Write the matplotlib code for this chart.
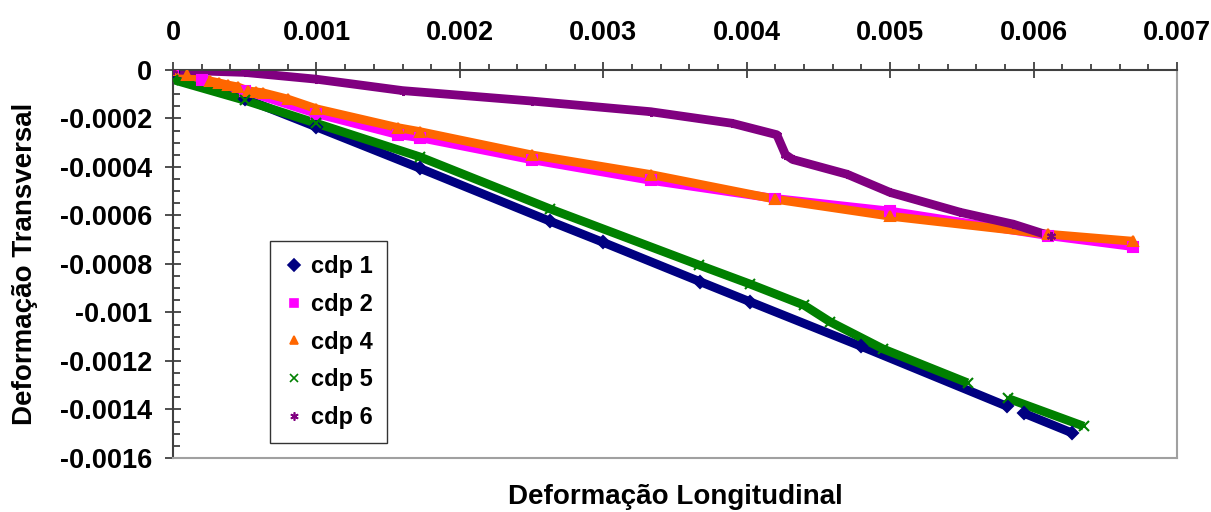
import numpy as np
import matplotlib.pyplot as plt
from matplotlib.lines import Line2D
from matplotlib.ticker import MultipleLocator, FuncFormatter

plt.rcParams['font.family'] = ['Liberation Sans', 'DejaVu Sans']
plt.rcParams['font.weight'] = 'bold'
plt.rcParams['axes.unicode_minus'] = False

nan = np.nan

# valores (deformacao longitudinal, deformacao transversal)
cdp1_x = [0, 0.0005, 0.001, 0.00172, 0.00263, 0.003, 0.003675, 0.004024, 0.0048, 0.005816, nan, 0.00593, 0.00627]
cdp1_y = [-0.00001, -0.000118, -0.000235, -0.000405, -0.000624, -0.000711, -0.000873, -0.000956, -0.00114, -0.001387, nan, -0.001415, -0.001497]

cdp2_x = [0, 0.0002, 0.0005, 0.001, 0.00157, 0.00172, 0.0025, 0.00333, 0.0042, 0.005, 0.0061, 0.00669]
cdp2_y = [0, -0.00004, -0.000085, -0.00018, -0.000267, -0.000279, -0.00037, -0.000455, -0.00053, -0.000582, -0.000683, -0.000728]

cdp4_x = [0, 0.0001, 0.000258, 0.00032, 0.000384, 0.000453, 0.000523, 0.000579, 0.000628, 0.0008, 0.001,
          0.00157, 0.00172, 0.0025, 0.00333, 0.0042, 0.005, 0.0061, 0.00669]
cdp4_y = [0, -0.00002, -0.000045, -0.000053, -0.000062, -0.00007, -0.000086, -0.00009, -0.000094, -0.00012, -0.00016,
          -0.000238, -0.000254, -0.00035, -0.000431, -0.000533, -0.000603, -0.000677, -0.000706]

cdp5_x = [0, 0.0005, 0.001, 0.00172, 0.00263, 0.00367, 0.00402, 0.0044, 0.00458, 0.00495, 0.00554, nan, 0.00582, 0.00635]
cdp5_y = [-0.00004, -0.000125, -0.00022, -0.000358, -0.000573, -0.000805, -0.000882, -0.00097, -0.001038, -0.00115, -0.00129, nan, -0.001354, -0.001469]

cdp6_x = [0, 0.0005, 0.001, 0.0016, 0.0025, 0.00333, 0.0039, 0.00421, 0.00427, 0.00432, 0.0047, 0.005, 0.00549, 0.00586, 0.00612]
cdp6_y = [0, -0.00001, -0.000038, -0.000085, -0.000128, -0.000172, -0.00022, -0.000267, -0.000349, -0.000369, -0.00043, -0.000505, -0.000587, -0.000636, -0.000685]

series = [
    ('cdp 1', cdp1_x, cdp1_y, '#000080', 'D'),
    ('cdp 2', cdp2_x, cdp2_y, '#FF00FF', 's'),
    ('cdp 4', cdp4_x, cdp4_y, '#FF6600', '^'),
    ('cdp 5', cdp5_x, cdp5_y, '#008000', 'x'),
    ('cdp 6', cdp6_x, cdp6_y, '#800080', (6, 2, 0)),
]

fig = plt.figure(figsize=(12.11, 5.12), dpi=100)
ax = fig.add_axes([0.1429, 0.1055, 0.8290, 0.7578])

handles = []
for name, xs, ys, cor, mk in series:
    ax.plot(xs, ys, color=cor, lw=6.3, solid_capstyle='butt', zorder=2)
    ax.plot(xs, ys, ls='none', marker=mk, color=cor, ms=6.5, mew=1.5, zorder=3)
    handles.append(Line2D([], [], ls='none', marker=mk, color=cor, ms=6, mew=1.2, label=name))

ax.set_xlim(0, 0.007)
ax.set_ylim(-0.0016, 0)

ax.xaxis.tick_top()
ax.xaxis.set_major_locator(MultipleLocator(0.001))
ax.xaxis.set_minor_locator(MultipleLocator(0.0002))
ax.yaxis.set_major_locator(MultipleLocator(0.0002))
ax.yaxis.set_minor_locator(MultipleLocator(0.00005))
fmt = FuncFormatter(lambda v, p: '0' if abs(v) < 1e-12 else ('%.4f' % v).rstrip('0'))
ax.xaxis.set_major_formatter(fmt)
ax.yaxis.set_major_formatter(fmt)

ax.tick_params(axis='x', which='major', direction='inout', length=11, width=1.3, color='#404040',
               labelsize=19.5, pad=12)
ax.tick_params(axis='x', which='minor', direction='out', length=4.5, width=1.3, color='#404040')
ax.tick_params(axis='y', which='major', direction='inout', length=12, width=1.3, color='#404040',
               labelsize=19.5, pad=9)
ax.tick_params(axis='y', which='minor', direction='in', length=5, width=1.3, color='#404040')

ax.spines['top'].set_color('#404040')
ax.spines['left'].set_color('#404040')
ax.spines['top'].set_linewidth(1.5)
ax.spines['left'].set_linewidth(1.5)
ax.spines['right'].set_color('#a0a0a0')
ax.spines['bottom'].set_color('#a0a0a0')
ax.spines['right'].set_linewidth(1.5)
ax.spines['bottom'].set_linewidth(1.5)

ax.xaxis.set_label_position('bottom')
ax.set_xlabel('Deformação Longitudinal', fontsize=20, fontweight='bold', va='center')
ax.xaxis.set_label_coords(0.5, -0.10)
ax.set_ylabel('Deformação Transversal', fontsize=20, fontweight='bold', va='center')
ax.yaxis.set_label_coords(-0.147, 0.5)

leg = ax.legend(handles=handles, loc='lower left', bbox_to_anchor=(0.0966, 0.0387), borderaxespad=0,
                fontsize=17, frameon=True, fancybox=False, edgecolor='black', handlelength=0.8,
                handletextpad=0.35, labelspacing=0.62, borderpad=0.6)
leg.get_frame().set_linewidth(1.0)

fig.savefig('out.png', dpi=100)
